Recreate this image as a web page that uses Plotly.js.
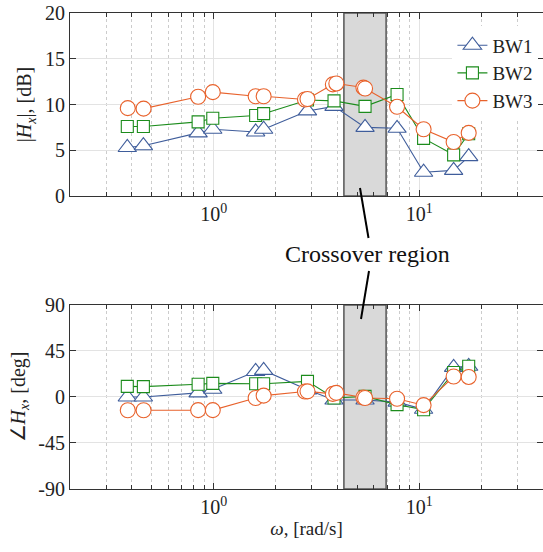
<!DOCTYPE html>
<html>
<head>
<meta charset="utf-8">
<script src="https://cdn.plot.ly/plotly-3.0.1.min.js"></script>
<style>
html,body{margin:0;padding:0;background:#fff;}
#chart text, #chart tspan { font-family: 'Liberation Serif', 'Times New Roman', serif !important; }
</style>
</head>
<body>
<div id="chart"></div>
<script>
// ---- data ----
const seriesNames = ['BW1', 'BW2', 'BW3'];
const freqBW1 = [0.38, 0.455, 0.84, 0.99, 1.6, 1.75, 2.86, 3.85, 5.45, 7.8, 10.5, 14.7, 17.4];
const magBW1  = [5.3, 5.5, 6.9, 7.3, 7.0, 7.3, 9.3, 9.8, 7.5, 7.4, 2.6, 2.8, 4.3];
const phaseBW1 = [0, 0, 4, 7.5, 25, 26, 7, -3, -3, -5, -12, 29, 30];
const freqBW2 = [0.38, 0.455, 0.84, 0.99, 1.6, 1.75, 2.86, 3.85, 5.45, 7.8, 10.5, 14.7, 17.4];
const magBW2  = [7.6, 7.6, 8.1, 8.5, 8.8, 9.0, 10.5, 10.4, 9.8, 11.1, 6.3, 4.5, 6.8];
const phaseBW2 = [10.4, 10.1, 12.4, 13.3, 13, 13, 15.3, -1, 0.6, -7.5, -12.5, 24, 30];
const freqBW3 = [0.382, 0.456, 0.84, 0.99, 1.6, 1.75, 2.78, 2.86, 3.8, 3.95, 5.35, 5.45, 7.8, 10.5, 14.7, 17.4];
const magBW3  = [9.6, 9.55, 10.85, 11.35, 10.9, 10.9, 10.55, 10.6, 12.2, 12.3, 11.85, 11.75, 9.75, 7.3, 5.9, 6.9];
const phaseBW3 = [-13, -13, -12.8, -12.8, -1, 1.3, 5.3, 5.5, 3, 4, -0.5, -1, -1.7, -8, 20, 19.6];
const crossoverBand = [4.3, 6.9];
const magRange = [0, 20];
const phaseRange = [-90, 90];
const xTickVals = [1, 10];
const xTickText = ['10<sup>0</sup>', '10<sup>1</sup>'];
const magTicks = [0, 5, 10, 15, 20];
const phaseTicks = [-90, -45, 0, 45, 90];
const phaseTickText = ['-90', '-45', '0', '45', '90'];

// ---- styles ----
const COLORS = ['#3f5d9b', '#1c8c1c', '#e8622c'];
const SYMBOLS = ['triangle-up', 'square', 'circle'];
const MSIZES = [16, 12, 15];
const FAM = 'Liberation Serif';
const AXC = '#333333';
const minorVals = [0.2,0.3,0.4,0.5,0.6,0.7,0.8,0.9,2,3,4,5,6,7,8,9,20,30,40];

const freqs = [freqBW1, freqBW2, freqBW3];
const mags = [magBW1, magBW2, magBW3];
const phases = [phaseBW1, phaseBW2, phaseBW3];

const traces = [];
function band(xa, ya, yr) {
  return {x: [crossoverBand[0], crossoverBand[1], crossoverBand[1], crossoverBand[0], crossoverBand[0]],
    y: [yr[0], yr[0], yr[1], yr[1], yr[0]], type: 'scatter', mode: 'lines', fill: 'toself',
    fillcolor: '#d9d9d9', line: {color: '#555555', width: 1.5}, xaxis: xa, yaxis: ya,
    showlegend: false, hoverinfo: 'skip'};
}
traces.push(band('x', 'y', magRange));
traces.push(band('x2', 'y2', phaseRange));

for (let i = 0; i < 3; i++) {
  traces.push({x: freqs[i], y: mags[i], type: 'scatter', mode: 'lines+markers', name: seriesNames[i],
    line: {color: COLORS[i], width: 1.1},
    marker: {symbol: SYMBOLS[i], size: MSIZES[i], color: '#ffffff', line: {color: COLORS[i], width: 1.1}},
    xaxis: 'x', yaxis: 'y', showlegend: true});
}
for (let i = 0; i < 3; i++) {
  traces.push({x: freqs[i], y: phases[i], type: 'scatter', mode: 'lines+markers', name: seriesNames[i],
    line: {color: COLORS[i], width: 1.1},
    marker: {symbol: SYMBOLS[i], size: MSIZES[i], color: '#ffffff', line: {color: COLORS[i], width: 1.1}},
    xaxis: 'x2', yaxis: 'y2', showlegend: false});
}

const xRange = [Math.log10(0.2), Math.log10(40)];
function xAxis(anchor) {
  return {type: 'log', range: xRange, anchor: anchor, tickvals: xTickVals, ticktext: xTickText,
    ticks: 'inside', ticklen: 6, tickcolor: AXC, showline: true, linecolor: AXC, linewidth: 1,
    mirror: 'ticks', showgrid: true, gridcolor: '#e3e3e3', gridwidth: 1, zeroline: false,
    tickfont: {family: FAM, size: 20, color: '#222222'},
    minor: {tickvals: minorVals, ticks: 'inside', ticklen: 4, tickcolor: AXC, showgrid: true, gridcolor: '#cccccc', griddash: 'dot', gridwidth: 1}};
}
const x1 = xAxis('y');
const x2 = xAxis('y2');
x2.title = {text: '<i>ω</i>, [rad/s]', font: {family: FAM, size: 19, color: '#222222'}, standoff: 4};

function yAxis(extra) {
  return Object.assign({ticks: 'inside', ticklen: 6, tickcolor: AXC, showline: true, linecolor: AXC, linewidth: 1,
    mirror: 'ticks', showgrid: true, gridcolor: '#e3e3e3', gridwidth: 1, zeroline: false,
    tickfont: {family: FAM, size: 20, color: '#222222'}}, extra);
}
const y1 = yAxis({domain: [0.6155, 1], range: magRange, tickvals: magTicks, anchor: 'x',
  title: {text: '|<i>H<sub>x</sub></i>|, [dB]', font: {family: FAM, size: 20, color: '#222222'}, standoff: 7}});
const y2 = yAxis({domain: [0, 0.3866], range: phaseRange, tickvals: phaseTicks, ticktext: phaseTickText, anchor: 'x2',
  title: {text: '∠<i>H<sub>x</sub></i>, [deg]', font: {family: FAM, size: 20, color: '#222222'}, standoff: 7}});

const L = 70, T = 13, W = 473, H = 476;
function px(xp){ return (xp - L) / W; }
function py(yp){ return (T + H - yp) / H; }

const layout = {
  width: 543, height: 552,
  margin: {l: L, r: 0, t: T, b: 63},
  paper_bgcolor: '#ffffff', plot_bgcolor: '#ffffff',
  font: {family: FAM, size: 20, color: '#222222'},
  xaxis: x1, yaxis: y1, xaxis2: x2, yaxis2: y2,
  showlegend: true,
  legend: {x: 0.8085, y: 0.972, xanchor: 'left', yanchor: 'top', bgcolor: '#ffffff', borderwidth: 0,
    font: {family: FAM, size: 19, color: '#222222'}, tracegroupgap: 0},
  shapes: [
    {type: 'line', xref: 'paper', yref: 'paper', x0: px(360), y0: py(188), x1: px(368.5), y1: py(238), line: {color: '#000000', width: 2}},
    {type: 'line', xref: 'paper', yref: 'paper', x0: px(369), y0: py(271), x1: px(361), y1: py(319), line: {color: '#000000', width: 2}}
  ],
  annotations: [
    {xref: 'paper', yref: 'paper', x: px(367), y: py(254), text: 'Crossover region', showarrow: false,
     font: {family: FAM, size: 24, color: '#111111'}, xanchor: 'center', yanchor: 'middle'}
  ]
};

Plotly.newPlot('chart', traces, layout, {displayModeBar: false});
</script>
</body>
</html>
